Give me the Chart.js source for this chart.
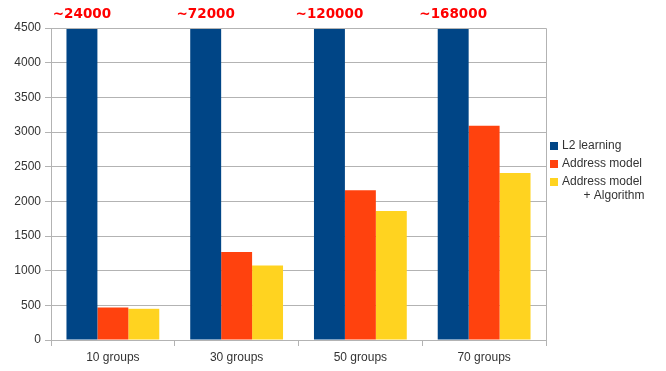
<!DOCTYPE html>
<html>
<head>
<meta charset="utf-8">
<script src="https://cdn.jsdelivr.net/npm/chart.js@4/dist/chart.umd.min.js"></script>
<style>
  html, body { margin: 0; padding: 0; background: #fff; }
  #wrap { width: 666px; height: 371px; }
</style>
</head>
<body>
<div id="wrap"><canvas id="myChart" width="666" height="371"></canvas></div>
<script>
const labels = ['10 groups', '30 groups', '50 groups', '70 groups'];
const seriesNames = ['L2 learning', 'Address model', 'Address model\n+ Algorithm'];
const l2Learning = [24000, 72000, 120000, 168000];
const addressModel = [470, 1270, 2160, 3090];
const addressAlgo = [450, 1075, 1860, 2410];
const colors = ['#004586', '#ff420e', '#ffd320'];
const yMax = 4500;

// red "~value" labels above the clipped L2 bars
const overflowLabels = {
  id: 'overflowLabels',
  afterDatasetsDraw(chart) {
    const ctx = chart.ctx;
    const meta = chart.getDatasetMeta(0);
    ctx.save();
    ctx.fillStyle = '#ff0000';
    ctx.font = 'bold 13.5px "DejaVu Sans"';
    ctx.textAlign = 'center';
    ctx.textBaseline = 'alphabetic';
    meta.data.forEach((bar, i) => {
      if (l2Learning[i] > yMax) {
        ctx.fillText('~' + l2Learning[i], bar.x, chart.chartArea.top - 10);
      }
    });
    ctx.restore();
  }
};

// plot frame + legend at the right
const frameAndLegend = {
  id: 'frameAndLegend',
  afterDraw(chart) {
    const ctx = chart.ctx;
    const a = chart.chartArea;
    ctx.save();
    ctx.strokeStyle = '#b3b3b3';
    ctx.lineWidth = 1;
    ctx.beginPath();
    ctx.moveTo(a.left, a.top + 0.5);
    ctx.lineTo(a.right + 0.5, a.top + 0.5);
    ctx.lineTo(a.right + 0.5, a.bottom);
    ctx.stroke();

    ctx.font = '12px "Liberation Sans"';
    ctx.textBaseline = 'middle';
    let y = 146;
    seriesNames.forEach((name, i) => {
      ctx.fillStyle = colors[i];
      ctx.fillRect(550, y - 4, 8, 8);
      ctx.fillStyle = '#333';
      const lines = name.split('\n');
      ctx.textAlign = 'left';
      ctx.fillText(lines[0], 562, y);
      if (lines[1]) {
        ctx.textAlign = 'center';
        const w = ctx.measureText(lines[0]).width;
        ctx.fillText(lines[1], 562 + w / 2 + 12, y + 14);
        ctx.textAlign = 'left';
      }
      y += 18;
    });
    ctx.restore();
  }
};

const ctx = document.getElementById('myChart').getContext('2d');
const myChart = new Chart(ctx, {
  type: 'bar',
  data: {
    labels: labels,
    datasets: [
      { label: seriesNames[0], data: l2Learning, backgroundColor: colors[0] },
      { label: seriesNames[1], data: addressModel, backgroundColor: colors[1] },
      { label: seriesNames[2], data: addressAlgo, backgroundColor: colors[2] }
    ]
  },
  options: {
    responsive: false,
    animation: false,
    layout: { padding: { top: 28, right: 120, left: 0, bottom: 0 } },
    datasets: { bar: { categoryPercentage: 0.75, barPercentage: 1.0 } },
    plugins: {
      legend: { display: false },
      tooltip: { enabled: false }
    },
    scales: {
      x: {
        offset: true,
        grid: { display: true, offset: true, drawOnChartArea: false, drawTicks: true, tickLength: 6, color: '#b3b3b3' },
        border: { color: '#b3b3b3' },
        ticks: { color: '#333', font: { family: 'Liberation Sans', size: 12 }, padding: 4 },
        afterFit(scale) { scale.height = 31; }
      },
      y: {
        min: 0,
        max: yMax,
        ticks: {
          stepSize: 500,
          color: '#333',
          font: { family: 'Liberation Sans', size: 12 },
          padding: 4,
          callback: (v) => String(v)
        },
        grid: { color: '#b3b3b3', tickLength: 6 },
        border: { color: '#b3b3b3' },
        afterFit(scale) { scale.width = 51; }
      }
    }
  },
  plugins: [overflowLabels, frameAndLegend]
});
</script>
</body>
</html>
